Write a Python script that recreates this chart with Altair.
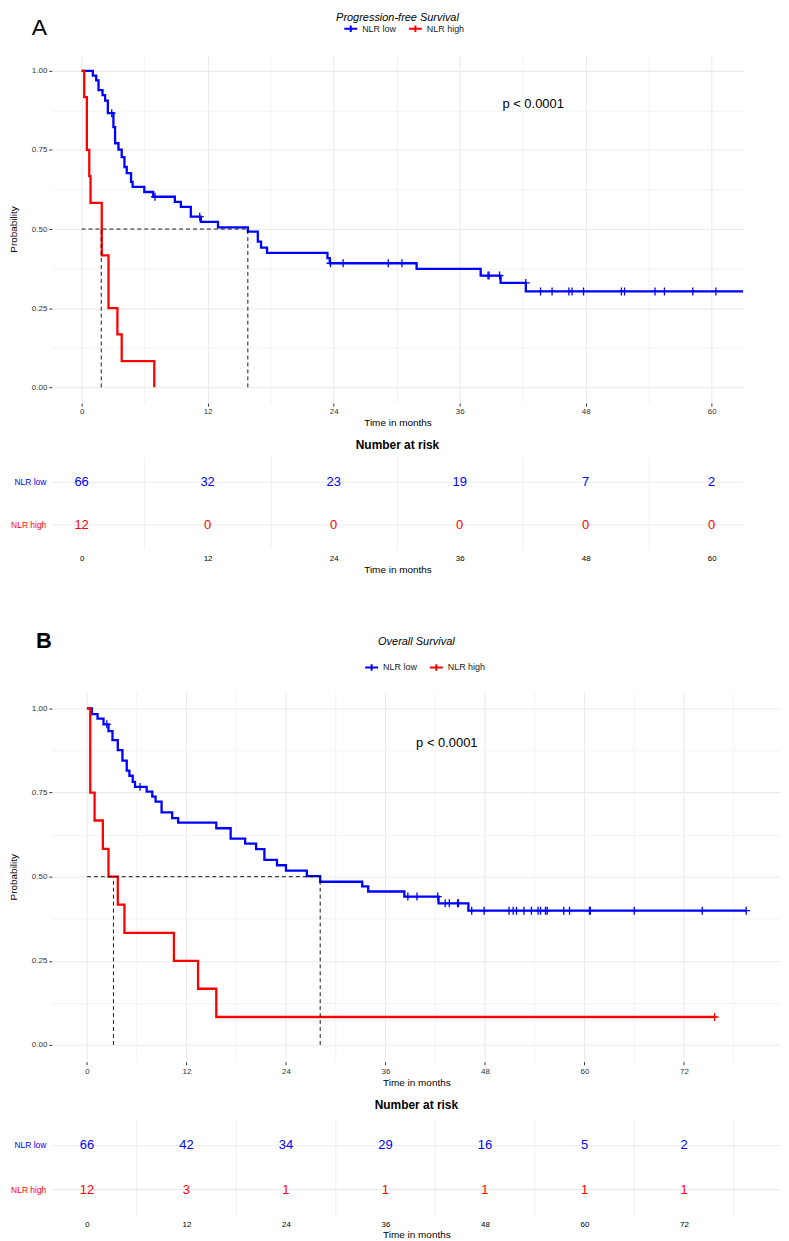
import altair as alt
import pandas as pd

FONT = "Liberation Sans"
BLUE = "#0000FF"
RED = "#FF0000"
GRID = "#EBEBEB"
TXT = "#333333"
GROUPS = ["NLR low", "NLR high"]

# ---------------- Panel A: progression-free survival ----------------
pfs_low_time = [0, 1.07, 1.39, 1.61, 1.99, 2.24, 2.5, 3.03, 3.19, 3.51, 3.82, 4.08, 4.3, 4.71, 4.86,
                5.97, 6.82, 8.88, 9.45, 10.4, 11.35, 12.99, 15.83, 16.78, 17.09, 17.66, 23.41, 23.63,
                31.9, 38.0, 39.9, 42.3, 63.0]
pfs_low_surv = [1.0, 0.985, 0.970, 0.939, 0.923, 0.906, 0.866, 0.822, 0.771, 0.751, 0.727, 0.696, 0.677,
                0.649, 0.633, 0.617, 0.602, 0.586, 0.570, 0.539, 0.523, 0.505, 0.492, 0.460, 0.441, 0.425,
                0.408, 0.392, 0.374, 0.353, 0.330, 0.303, 0.303]
pfs_low_cens_time = [2.87, 6.99, 11.25, 23.7, 24.9, 29.2, 30.5, 38.7, 38.8, 39.8, 42.3, 43.7, 44.8, 46.4,
                     46.7, 47.8, 51.4, 51.7, 54.6, 55.5, 58.2, 60.4]
pfs_low_cens_surv = [0.866, 0.602, 0.539, 0.392, 0.392, 0.392, 0.392, 0.353, 0.353, 0.353, 0.330,
                     0.303, 0.303, 0.303, 0.303, 0.303, 0.303, 0.303, 0.303, 0.303, 0.303, 0.303]
pfs_high_time = [0, 0.25, 0.5, 0.73, 0.85, 1.92, 2.56, 3.41, 3.82, 6.92]
pfs_high_surv = [1.0, 0.917, 0.75, 0.667, 0.583, 0.417, 0.25, 0.167, 0.083, 0.0]
pfs_high_cens_time = []
pfs_high_cens_surv = []
pfs_medians = [15.83, 1.87]
pfs_risk_time = [0, 12, 24, 36, 48, 60]
pfs_risk_low = [66, 32, 23, 19, 7, 2]
pfs_risk_high = [12, 0, 0, 0, 0, 0]

# ---------------- Panel B: overall survival ----------------
os_low_time = [0, 0.6, 1.28, 2.0, 2.6, 3.08, 3.72, 4.28, 4.8, 5.12, 5.52, 5.8, 7.2, 7.88, 8.28, 9.0,
               10.28, 11.0, 15.6, 17.33, 19.08, 20.4, 21.4, 22.92, 24.0, 26.52, 28.13, 33.2, 33.92,
               38.28, 42.4, 46.0, 79.5]
os_low_surv = [1.0, 0.983, 0.970, 0.953, 0.933, 0.906, 0.876, 0.845, 0.815, 0.800, 0.782, 0.767, 0.753,
               0.738, 0.723, 0.691, 0.674, 0.661, 0.644, 0.613, 0.598, 0.582, 0.550, 0.534, 0.518, 0.502,
               0.485, 0.471, 0.456, 0.441, 0.421, 0.399, 0.399]
os_low_cens_time = [2.4, 6.4, 38.7, 39.8, 42.3, 43.2, 43.7, 44.7, 44.8, 46.4, 47.9, 50.9, 51.4, 51.8,
                    52.7, 53.6, 54.4, 54.7, 55.3, 55.5, 57.5, 58.2, 60.6, 60.7, 66.0, 74.2, 79.5]
os_low_cens_surv = [0.953, 0.767, 0.441, 0.441, 0.441, 0.421, 0.421, 0.421, 0.421] + [0.399] * 18
os_high_time = [0, 0.4, 0.92, 1.92, 2.6, 3.72, 4.52, 10.49, 13.4, 15.6, 75.7]
os_high_surv = [1.0, 0.75, 0.667, 0.583, 0.5, 0.417, 0.333, 0.25, 0.167, 0.083, 0.083]
os_high_cens_time = [75.7]
os_high_cens_surv = [0.083]
os_medians = [28.13, 3.2]
os_risk_time = [0, 12, 24, 36, 48, 60, 72]
os_risk_low = [66, 42, 34, 29, 16, 5, 2]
os_risk_high = [12, 3, 1, 1, 1, 1, 1]

P_TEXT = "p < 0.0001"

COLOR_SCALE = alt.Scale(domain=GROUPS, range=[BLUE, RED])


def x_axis_main(vals, label_pad):
    major = "datum.value % 12 === 0"
    return alt.Axis(
        values=vals, format="d", labelExpr=f"{major} ? datum.label : ''",
        grid=True, gridColor=GRID,
        gridWidth={"condition": {"test": major, "value": 1.1}, "value": 0.6},
        ticks=True, tickSize=3, tickColor="#333333", tickWidth=1,
        tickOpacity={"condition": {"test": major, "value": 1}, "value": 0},
        domain=False, labelFont=FONT, labelFontSize=8, labelColor=TXT, labelPadding=label_pad,
        labelFlush=False, title="Time in months", titleFont=FONT, titleFontSize=10,
        titleFontWeight="normal", titleColor="black", titlePadding=2)


def y_axis_main():
    major = "round(datum.value * 8) % 2 === 0"
    return alt.Axis(
        values=[0, 0.125, 0.25, 0.375, 0.5, 0.625, 0.75, 0.875, 1.0],
        labelExpr=f"{major} ? format(datum.value, '.2f') : ''",
        grid=True, gridColor=GRID,
        gridWidth={"condition": {"test": major, "value": 1.1}, "value": 0.6},
        ticks=True, tickSize=3, tickColor="#333333", tickWidth=1,
        tickOpacity={"condition": {"test": major, "value": 1}, "value": 0},
        domain=False, labelFont=FONT, labelFontSize=8, labelColor=TXT, labelPadding=2,
        title="Probability", titleFont=FONT, titleFontSize=10, titleFontWeight="normal",
        titleColor="black", titlePadding=13)


def km_panel(low_t, low_s, high_t, high_s, lc_t, lc_s, hc_t, hc_s, medians, xdom, xvals,
             width, height, title, title_s, letter, letter_t, letter_s, letter_size, letter_weight,
             p_t, p_s, legend_x, legend_y, label_pad):
    xs = alt.Scale(domain=xdom, nice=False, zero=False)
    ys = alt.Scale(domain=[-0.05, 1.05], nice=False, zero=False)
    X = alt.X("t:Q", scale=xs, axis=x_axis_main(xvals, label_pad), title="Time in months")
    Y = alt.Y("s:Q", scale=ys, axis=y_axis_main(), title="Probability")

    curves = pd.DataFrame(
        {"t": low_t + high_t, "s": low_s + high_s,
         "group": [GROUPS[0]] * len(low_t) + [GROUPS[1]] * len(high_t)})
    legend = alt.Legend(
        title=None, orient="none", legendX=legend_x, legendY=legend_y, direction="horizontal",
        symbolType="M-1,0L1,0M0,-0.5L0,0.5", symbolSize=169, symbolStrokeWidth=2,
        symbolFillColor="transparent", labelFont=FONT, labelFontSize=9, labelColor="#1a1a1a",
        labelOffset=4, columnPadding=8)
    lines = alt.Chart(curves).mark_line(interpolate="step-after", strokeWidth=2.3, clip=True).encode(
        x=X, y=Y, color=alt.Color("group:N", scale=COLOR_SCALE, legend=legend, sort=GROUPS))

    layers = [lines]
    for ct, cs, col in ((lc_t, lc_s, BLUE), (hc_t, hc_s, RED)):
        if ct:
            cdf = pd.DataFrame({"t": ct, "s": cs})
            layers.append(alt.Chart(cdf).mark_point(
                shape="M-1,0L1,0M0,-1L0,1", size=64, filled=False, strokeWidth=1.3, opacity=1,
                color=col).encode(x=X, y=Y))

    med = pd.DataFrame({
        "t": [0.0] + medians, "t2": [max(medians)] + medians,
        "s": [0.5] + [0.0] * len(medians), "s2": [0.5] + [0.5] * len(medians)})
    layers.append(alt.Chart(med).mark_rule(color="black", strokeDash=[4, 3], strokeWidth=0.9).encode(
        x=X, x2="t2:Q", y=Y, y2="s2:Q"))

    tdf = pd.DataFrame({"t": [(xdom[0] + xdom[1]) / 2], "s": [title_s], "label": [title]})
    layers.append(alt.Chart(tdf).mark_text(font=FONT, fontSize=11, fontStyle="italic",
                                           color="black", baseline="middle").encode(
        x=X, y=Y, text="label:N"))
    ldf = pd.DataFrame({"t": [letter_t], "s": [letter_s], "label": [letter]})
    layers.append(alt.Chart(ldf).mark_text(font=FONT, fontSize=letter_size, fontWeight=letter_weight,
                                           color="black", baseline="middle").encode(
        x=X, y=Y, text="label:N"))
    pdf = pd.DataFrame({"t": [p_t], "s": [p_s], "label": [P_TEXT]})
    layers.append(alt.Chart(pdf).mark_text(font=FONT, fontSize=13, color="black",
                                           baseline="middle").encode(
        x=X, y=Y, text="label:N"))
    return alt.layer(*layers).properties(width=width, height=height)


def risk_panel(times, low, high, xdom, xvals, width, height, pad, title_offset, title_pad):
    df = pd.DataFrame({"t": times + times, "n": low + high,
                       "group": [GROUPS[0]] * len(times) + [GROUPS[1]] * len(times)})
    major = "datum.value % 12 === 0"
    xa = alt.Axis(
        values=xvals, format="d", labelExpr=f"{major} ? datum.label : ''",
        grid=True, gridColor=GRID, gridWidth=0.8,
        gridOpacity={"condition": {"test": major, "value": 0}, "value": 1},
        ticks=False, domain=False, labelFont=FONT, labelFontSize=8, labelColor="black",
        labelPadding=5, labelFlush=False, titleFont=FONT, titleFontSize=10,
        titleFontWeight="normal", titleColor="black", titlePadding=title_pad)
    ya = alt.Axis(
        title=None, ticks=False, domain=False, grid=True, gridColor=GRID, gridWidth=1.1,
        labelFont=FONT, labelFontSize=8.5, labelPadding=6,
        labelColor={"condition": {"test": "datum.value === 'NLR low'", "value": BLUE}, "value": RED})
    return alt.Chart(df).mark_text(font=FONT, fontSize=13, baseline="middle").encode(
        x=alt.X("t:Q", scale=alt.Scale(domain=xdom, nice=False, zero=False), axis=xa,
                title="Time in months"),
        y=alt.Y("group:N", scale=alt.Scale(type="point", domain=GROUPS, padding=pad), axis=ya,
                sort=GROUPS),
        color=alt.Color("group:N", scale=COLOR_SCALE, legend=None),
        text="n:Q",
    ).properties(width=width, height=height,
                 title=alt.TitleParams("Number at risk", font=FONT, fontSize=12, fontWeight="bold",
                                       anchor="middle", offset=title_offset, color="black"))


A_DOM = [-2.84, 63.0]
B_DOM = [-4.24, 83.7]
A_XV = list(range(0, 61, 6))
B_XV = list(range(0, 79, 6))

a_main = km_panel(pfs_low_time, pfs_low_surv, pfs_high_time, pfs_high_surv,
                  pfs_low_cens_time, pfs_low_cens_surv, pfs_high_cens_time, pfs_high_cens_surv,
                  pfs_medians, A_DOM, A_XV, 695, 350, "Progression-free Survival", 1.1665,
                  "A", -4.03, 1.135, 23, "normal", 43.0, 0.896, 293, -34, 1)
a_risk = risk_panel(pfs_risk_time, pfs_risk_low, pfs_risk_high, A_DOM, A_XV, 695, 93, 0.58, 5, 2)

b_main = km_panel(os_low_time, os_low_surv, os_high_time, os_high_surv,
                  os_low_cens_time, os_low_cens_surv, os_high_cens_time, os_high_cens_surv,
                  os_medians, B_DOM, B_XV, 733, 372, "Overall Survival", 1.197,
                  "B", -5.2, 1.2, 22, "bold", 43.4, 0.896, 314, -32, 3)
b_risk = risk_panel(os_risk_time, os_risk_low, os_risk_high, B_DOM, B_XV, 733, 98, 0.59, 7, 1)

top = alt.vconcat(a_main, a_risk, spacing=12).resolve_scale(color="independent").resolve_legend(
    color="independent")
bottom = alt.vconcat(b_main, b_risk, spacing=11).resolve_scale(color="independent").resolve_legend(
    color="independent")

chart = alt.vconcat(top, bottom, spacing=56).resolve_scale(color="independent").resolve_legend(
    color="independent").properties(
    padding={"left": 0, "top": 0, "right": 0, "bottom": 0}, background="white"
).configure_view(stroke=None)

chart.save("out.html", embed_options={"renderer": "svg", "actions": False})
